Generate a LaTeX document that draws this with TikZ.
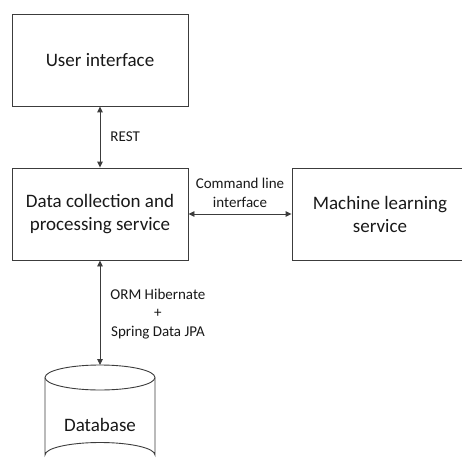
\documentclass[tikz,border=0pt]{standalone}
\usepackage{fontspec}
\setmainfont{Carlito}
\usetikzlibrary{positioning,arrows.meta}
\definecolor{lnGray}{RGB}{60,60,60}
\definecolor{txGray}{RGB}{25,25,25}

\begin{document}
\begin{tikzpicture}[x=1pt,y=-1pt,
    box/.style={draw=lnGray, line width=0.9pt, minimum width=176pt, minimum height=92pt,
      align=center, font=\fontsize{19}{23}\selectfont, text=txGray},
    lbl/.style={inner sep=0pt, align=center, font=\fontsize{15}{18.5}\selectfont, text=txGray},
    link/.style={lnGray, line width=0.9pt, {Triangle[width=5.5pt,length=6pt]}-{Triangle[width=5.5pt,length=6pt]}}]
  \useasboundingbox[fill=white] (0,0) rectangle (461,468);

  % Services
  \node[box] (ui) at (100,60) {User interface};
  \node[box] (dcp) at (100,214) {Data collection and\\processing service};
  \node[box, minimum width=186pt] (mls) at (385,214) {};
  \node[lbl, font=\fontsize{19}{23}\selectfont] (mlstext) at (380,214) {Machine learning\\service};

  % Database cylinder
  \coordinate (dbtop) at (100,365);
  \draw[lnGray, line width=0.9pt] (100,377.5) ellipse (55 and 12.5);
  \draw[lnGray, line width=0.9pt] (45,377.5) -- (45,455) arc (180:360:55 and 12.5) -- (155,377.5);
  \node[lbl, font=\fontsize{19}{23}\selectfont] (db) at (100,425) {Database};

  % Connections
  \draw[link] (ui) -- node[lbl, right=10pt] (rest) {REST} (dcp);
  \draw[link] (dcp) -- node[lbl, above=6pt] (cli) {Command line\\interface} (mls);
  \draw[link] (dcp) -- node[lbl, anchor=west, xshift=10pt, yshift=-1pt] (orm) {ORM Hibernate\\+\\Spring Data JPA} (dbtop);
\end{tikzpicture}
\end{document}
